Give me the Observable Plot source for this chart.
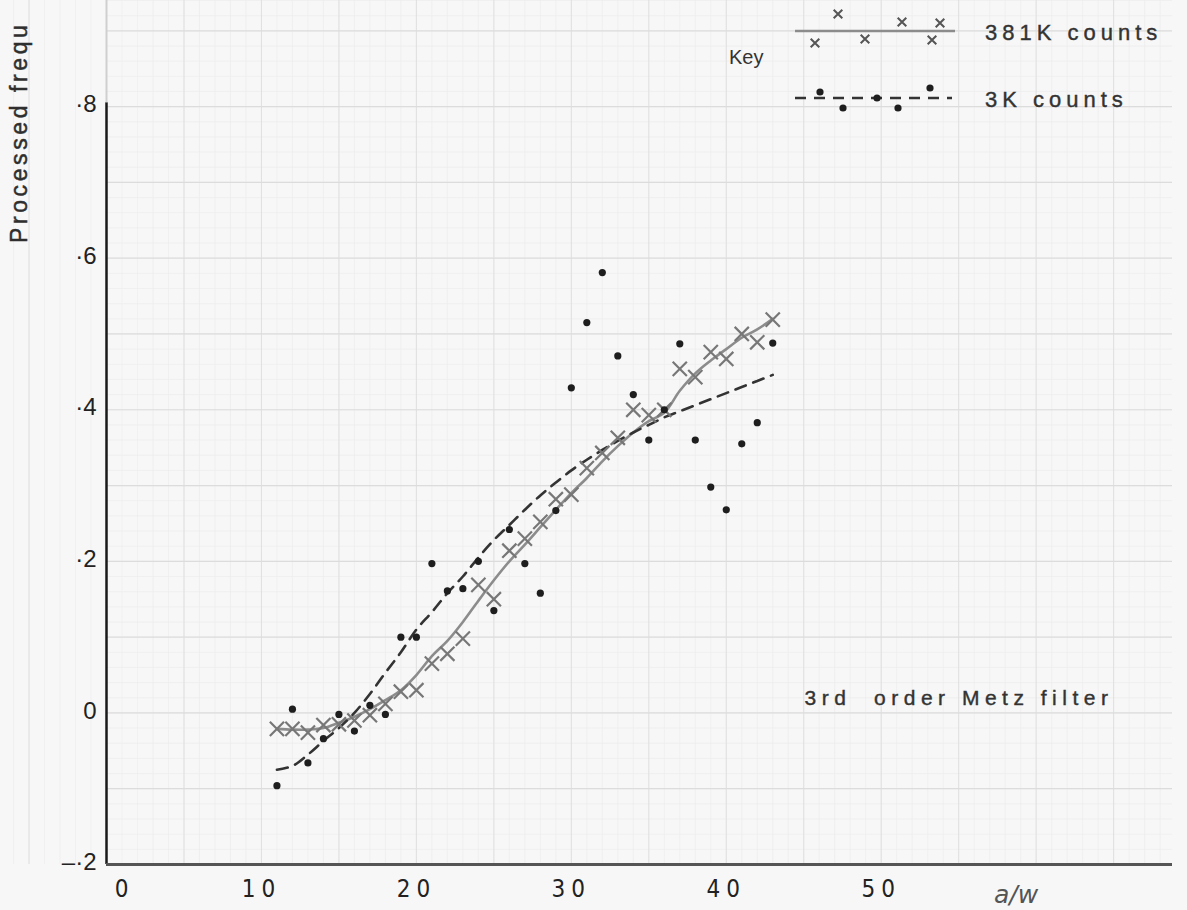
<!DOCTYPE html>
<html>
<head>
<meta charset="utf-8">
<script src="https://cdn.jsdelivr.net/npm/d3@7"></script>
<script src="https://cdn.jsdelivr.net/npm/@observablehq/plot@0.6"></script>
<style>
  html, body { margin: 0; padding: 0; background: #f7f7f7; overflow: hidden; }
  #chart { position: relative; width: 1187px; height: 910px; }
</style>
</head>
<body>
<div id="chart"></div>
<script>
// a/w values (x)
const aw = [11,12,13,14,15,16,17,18,19,20,21,22,23,24,25,26,27,28,29,30,31,32,33,34,35,36,37,38,39,40,41,42,43];
// 381K counts – measured points (crosses)
const counts381K = [-0.021,-0.021,-0.026,-0.016,-0.015,-0.010,-0.003,0.012,0.028,0.030,0.065,0.078,0.098,0.169,0.150,0.214,0.230,0.252,0.282,0.288,0.323,0.343,0.363,0.400,0.393,0.400,0.454,0.443,0.476,0.467,0.500,0.489,0.519];
// 3K counts – measured points (dots)
const counts3K = [-0.096,0.005,-0.066,-0.034,-0.002,-0.024,0.010,-0.002,0.100,0.100,0.197,0.161,0.164,0.200,0.135,0.242,0.197,0.158,0.267,0.429,0.515,0.581,0.471,0.420,0.360,0.400,0.487,0.360,0.298,0.268,0.355,0.383,0.488];
// 381K counts – fitted curve (solid)
const fit381K = [-0.021,-0.022,-0.022,-0.020,-0.013,-0.005,0.005,0.017,0.030,0.050,0.075,0.095,0.120,0.148,0.175,0.200,0.222,0.245,0.268,0.290,0.310,0.332,0.352,0.370,0.385,0.396,0.425,0.448,0.465,0.480,0.495,0.506,0.520];
// 3K counts – fitted curve (dashed)
const fit3K = [-0.075,-0.070,-0.055,-0.037,-0.020,0.000,0.025,0.053,0.080,0.110,0.133,0.158,0.180,0.205,0.228,0.248,0.268,0.287,0.304,0.320,0.334,0.347,0.359,0.370,0.380,0.390,0.398,0.406,0.414,0.422,0.430,0.438,0.446];

// tick labels
const xTicks = [10,20,30,40,50];
const xTickLabels = ["10","20","30","40","50"];
const yTicks = [-0.2,0,0.2,0.4,0.6,0.8];
const yTickLabels = ["\u2013\u00b72","0","\u00b72","\u00b74","\u00b76","\u00b78"];

const data = aw.map((x, i) => ({x, c381: counts381K[i], c3: counts3K[i], f381: fit381K[i], f3: fit3K[i]}));
const xTickData = xTicks.map((v, i) => ({v, label: xTickLabels[i]}));
const yTickData = yTicks.map((v, i) => ({v, label: yTickLabels[i]}));

const font = "'Liberation Sans', Arial, sans-serif";
const condensed = "'DejaVu Sans Condensed', 'Liberation Sans Narrow', sans-serif";

const plot = Plot.plot({
  width: 1187,
  height: 910,
  marginLeft: 106,
  marginRight: 15,
  marginTop: 0,
  marginBottom: 46,
  x: {domain: [0, 68.8], axis: null},
  y: {domain: [-0.2, 0.94], axis: null},
  style: {background: "#f7f7f7", fontFamily: font, overflow: "hidden"},
  marks: [
    // graph paper – minor grid
    Plot.gridX({ticks: d3.range(-6, 69, 1), stroke: "#ededed", strokeOpacity: 1, strokeWidth: 0.7}),
    Plot.gridY({ticks: d3.range(-0.2, 0.95, 0.02), stroke: "#ededed", strokeOpacity: 1, strokeWidth: 0.7}),
    // graph paper – major grid
    Plot.gridX({ticks: d3.range(-5, 69, 5), stroke: "#e0e0e0", strokeOpacity: 1, strokeWidth: 1}),
    Plot.gridY({ticks: d3.range(-0.2, 0.95, 0.1), stroke: "#dcdcdc", strokeOpacity: 1, strokeWidth: 1.2}),
    // axes
    Plot.ruleX([0], {y1: -0.2, y2: 0.805, stroke: "#1a1a1a", strokeWidth: 2.5}),
    Plot.ruleX([0], {y1: 0.805, y2: 0.94, stroke: "#cfcfcf", strokeWidth: 2}),
    Plot.ruleY([-0.2], {x1: 0, x2: 68.8, stroke: "#555", strokeWidth: 3}),
    // fitted curves
    Plot.line(data, {x: "x", y: "f381", stroke: "#8c8c8c", strokeWidth: 2.6, curve: "catmull-rom"}),
    Plot.line(data, {x: "x", y: "f3", stroke: "#333", strokeWidth: 2.6, strokeDasharray: "11,8", curve: "catmull-rom"}),
    // points
    Plot.dot(data, {x: "x", y: "c381", symbol: "times", r: 6.5, stroke: "#777", strokeWidth: 2.2}),
    Plot.dot(data, {x: "x", y: "c3", r: 3.6, fill: "#1e1e1e", stroke: "none"}),
    // x tick labels
    Plot.text(xTickData, {x: "v", y: -0.2, text: "label", dy: 25, fontSize: 24, fill: "#222", fontFamily: condensed}),
    Plot.text([0], {x: d => d, y: -0.2, text: () => "0", dx: 15, dy: 25, fontSize: 24, fill: "#222", fontFamily: condensed}),
    // y tick labels
    Plot.text(yTickData, {x: 0, y: "v", text: "label", dx: -10, dy: -2, textAnchor: "end", fontSize: 24, fill: "#222", fontFamily: font}),
    // axis title x
    Plot.text(["a/w"], {x: 58.7, y: -0.2, text: d => d, dy: 30, fontSize: 25, fill: "#555", fontStyle: "italic", fontFamily: "'DejaVu Sans', sans-serif"}),
    // annotation
    Plot.text(["3rd  order Metz filter"], {x: 45.05, y: 0.0, text: d => d, dy: -15, textAnchor: "start", fontSize: 21, fill: "#333", fontFamily: font})
  ]
});

document.getElementById("chart").appendChild(plot);

// letter spacing / weight to mimic the spaced, scanned lettering of the source
d3.select(plot).selectAll("text").each(function() {
  const t = this.textContent;
  if (/^\d0$/.test(t)) this.setAttribute("letter-spacing", "6");
  if (t.includes("Metz")) {
    this.setAttribute("letter-spacing", "5.5");
    this.setAttribute("stroke", "#333");
    this.setAttribute("stroke-width", "0.4");
  }
});

// Key (legend) drawn into the same SVG
const svg = d3.select(plot);
const key = svg.append("g").attr("font-family", font).attr("text-anchor", "start");
key.append("text").attr("x", 729).attr("y", 64)
  .attr("font-size", 20).attr("fill", "#333").text("Key");
// 381K row
key.append("line").attr("x1", 795).attr("x2", 955).attr("y1", 31).attr("y2", 31)
  .attr("stroke", "#8c8c8c").attr("stroke-width", 2.6);
const legCross = [[838,14],[815,43],[865,39],[902,22],[940,23],[932,40]];
key.selectAll("path.c").data(legCross).join("path")
  .attr("transform", d => `translate(${d[0]},${d[1]})`)
  .attr("d", d3.symbol(d3.symbolTimes, 50)())
  .attr("fill", "none").attr("stroke", "#555").attr("stroke-width", 2);
key.append("text").attr("x", 985).attr("y", 40).attr("font-size", 22).attr("fill", "#333")
  .attr("stroke", "#333").attr("stroke-width", 0.4)
  .attr("letter-spacing", 5).text("381K counts");
// 3K row
key.append("line").attr("x1", 795).attr("x2", 952).attr("y1", 98).attr("y2", 98)
  .attr("stroke", "#333").attr("stroke-width", 2.6).attr("stroke-dasharray", "11,8");
const legDots = [[820,92],[843,108],[877,98],[898,108],[930,88]];
key.selectAll("circle.d").data(legDots).join("circle")
  .attr("cx", d => d[0]).attr("cy", d => d[1]).attr("r", 3.6).attr("fill", "#1e1e1e");
key.append("text").attr("x", 985).attr("y", 107).attr("font-size", 22).attr("fill", "#333")
  .attr("stroke", "#333").attr("stroke-width", 0.4)
  .attr("letter-spacing", 5).text("3K counts");
// y axis title (only the part visible in the source)
key.append("text").attr("transform", "translate(27,243) rotate(-90)")
  .attr("font-size", 23).attr("fill", "#2e2e2e")
  .attr("stroke", "#2e2e2e").attr("stroke-width", 0.5)
  .attr("letter-spacing", 3.6).text("Processed frequ");
</script>
</body>
</html>
